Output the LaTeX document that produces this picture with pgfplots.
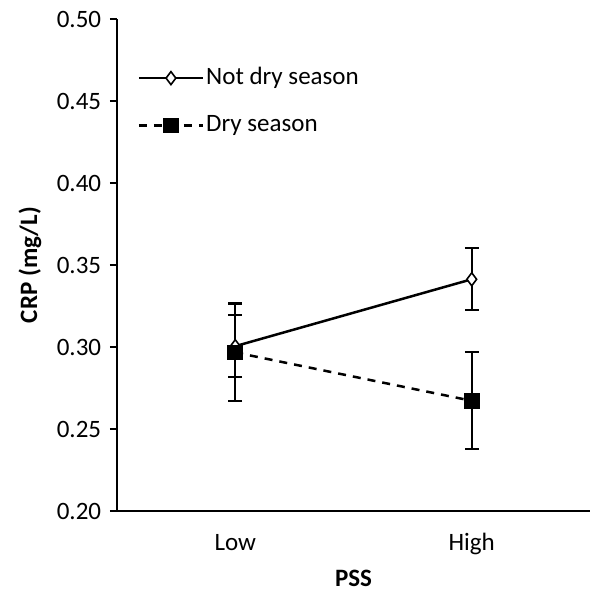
\documentclass[border=0pt]{standalone}
\usepackage{fontspec}
\setmainfont{Carlito}
\usepackage{pgfplots}
\pgfplotsset{compat=1.18}
\begin{document}
\fontsize{26bp}{30bp}\selectfont
\begin{tikzpicture}
\useasboundingbox (-117bp,-90bp) rectangle (483bp,511bp);
\begin{axis}[
  at={(0,0)}, anchor=south west,
  scale only axis,
  width=473bp, height=492bp,
  xmin=0, xmax=2,
  ymin=0.20, ymax=0.50,
  axis x line*=bottom, axis y line*=left,
  axis line style={line width=1.8bp, -},
  every tick/.style={line width=1.6bp, black},
  tick align=outside,
  major tick length=7bp,
  minor tick length=8bp,
  xtick={0.5,1.5},
  xticklabels={Low,High},
  xtick style={draw=none},
  minor xtick={0,1,2},
  ytick={0.20,0.25,0.30,0.35,0.40,0.45,0.50},
  /pgf/number format/assume math mode=true,
  yticklabel style={/pgf/number format/fixed, /pgf/number format/fixed zerofill, /pgf/number format/precision=2, anchor=east},
  xticklabel style={anchor=base, yshift=-32bp},
  ticklabel style={font=\fontsize{25bp}{30bp}\selectfont},
  label style={font=\fontsize{25bp}{30bp}\selectfont\bfseries},
  xlabel={PSS},
  ylabel={CRP (mg/L)},
  xlabel style={at={(axis description cs:0.5,-0.136)}, anchor=center},
  ylabel style={at={(axis description cs:-0.184,0.5)}, anchor=center},
  legend style={draw=none, fill=none, at={(axis description cs:0.037,0.91)}, anchor=north west,
    font=\fontsize{25bp}{30bp}\selectfont, row sep=23bp,
    every even column/.append style={column sep=5bp}},
  legend cell align=left,
  legend image code/.code={\draw[mark repeat=2,mark phase=2] plot coordinates {(0bp,0bp) (32bp,0bp) (64bp,0bp)};},
  clip=false,
]
\addplot[black, line width=2.5bp, mark=diamond*, mark options={fill=white, solid, line width=1.6bp}, mark size=6.5bp,
  error bars/.cd, y dir=both, y explicit,
  error bar style={line width=2.1bp, solid},
  error mark options={rotate=90, mark size=7bp, line width=2.1bp}]
coordinates {
  (0.5,0.3005) +- (0,0.0190)
  (1.5,0.3413) +- (0,0.0188)
};
\addlegendentry{Not dry season}
\addplot[black, line width=2.5bp, dash pattern=on 8bp off 7bp, mark=square*, mark options={fill=black, solid}, mark size=6.5bp,
  error bars/.cd, y dir=both, y explicit,
  error bar style={line width=2.1bp, solid},
  error mark options={rotate=90, mark size=7bp, line width=2.1bp, solid}]
coordinates {
  (0.5,0.2967) +- (0,0.0298)
  (1.5,0.2672) +- (0,0.0296)
};
\addlegendentry{Dry season}
\end{axis}
\end{tikzpicture}
\end{document}
